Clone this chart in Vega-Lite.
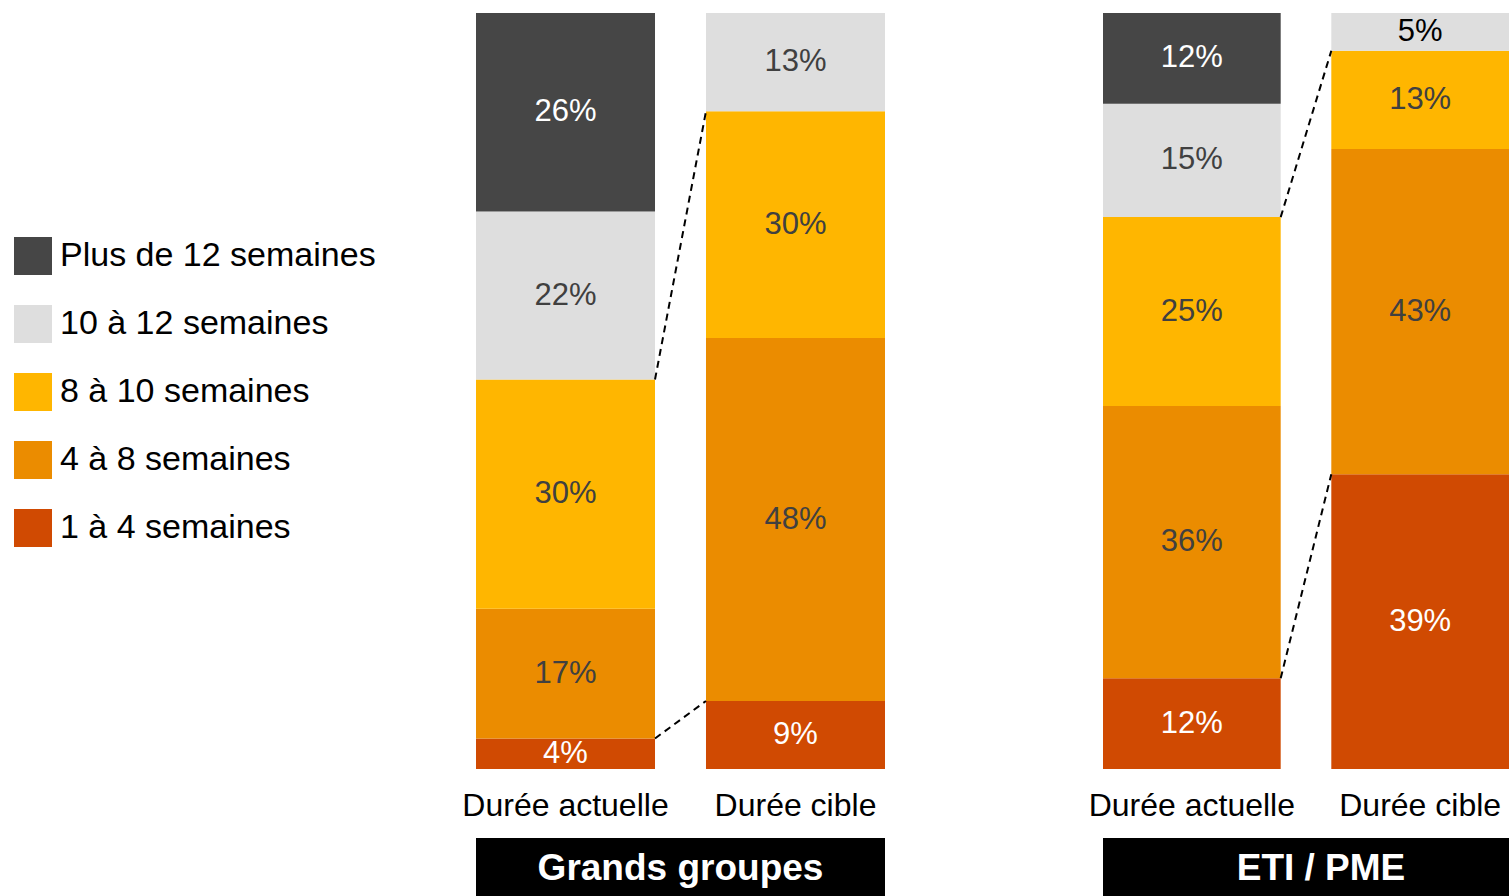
{
  "$schema": "https://vega.github.io/schema/vega-lite/v6.json",
  "padding": {"left": 14, "top": 13, "right": 0, "bottom": 0},
  "config": {
    "view": {"stroke": null},
    "font": "Liberation Sans"
  },
  "datasets": {
    "segs": [
      {"grp": "Grands groupes", "dur": "Durée actuelle", "cat": "1 à 4 semaines", "rank": 1, "v": 0.04},
      {"grp": "Grands groupes", "dur": "Durée actuelle", "cat": "4 à 8 semaines", "rank": 2, "v": 0.17},
      {"grp": "Grands groupes", "dur": "Durée actuelle", "cat": "8 à 10 semaines", "rank": 3, "v": 0.30},
      {"grp": "Grands groupes", "dur": "Durée actuelle", "cat": "10 à 12 semaines", "rank": 4, "v": 0.22},
      {"grp": "Grands groupes", "dur": "Durée actuelle", "cat": "Plus de 12 semaines", "rank": 5, "v": 0.26},
      {"grp": "Grands groupes", "dur": "Durée cible", "cat": "1 à 4 semaines", "rank": 1, "v": 0.09},
      {"grp": "Grands groupes", "dur": "Durée cible", "cat": "4 à 8 semaines", "rank": 2, "v": 0.48},
      {"grp": "Grands groupes", "dur": "Durée cible", "cat": "8 à 10 semaines", "rank": 3, "v": 0.30},
      {"grp": "Grands groupes", "dur": "Durée cible", "cat": "10 à 12 semaines", "rank": 4, "v": 0.13},
      {"grp": "ETI / PME", "dur": "Durée actuelle", "cat": "1 à 4 semaines", "rank": 1, "v": 0.12},
      {"grp": "ETI / PME", "dur": "Durée actuelle", "cat": "4 à 8 semaines", "rank": 2, "v": 0.36},
      {"grp": "ETI / PME", "dur": "Durée actuelle", "cat": "8 à 10 semaines", "rank": 3, "v": 0.25},
      {"grp": "ETI / PME", "dur": "Durée actuelle", "cat": "10 à 12 semaines", "rank": 4, "v": 0.15},
      {"grp": "ETI / PME", "dur": "Durée actuelle", "cat": "Plus de 12 semaines", "rank": 5, "v": 0.12},
      {"grp": "ETI / PME", "dur": "Durée cible", "cat": "1 à 4 semaines", "rank": 1, "v": 0.39},
      {"grp": "ETI / PME", "dur": "Durée cible", "cat": "4 à 8 semaines", "rank": 2, "v": 0.43},
      {"grp": "ETI / PME", "dur": "Durée cible", "cat": "8 à 10 semaines", "rank": 3, "v": 0.13},
      {"grp": "ETI / PME", "dur": "Durée cible", "cat": "10 à 12 semaines", "rank": 4, "v": 0.05}
    ],
    "links": [
      {"grp": "Grands groupes", "from": "Durée actuelle", "to": "Durée cible", "a": 0.5152, "b": 0.87},
      {"grp": "Grands groupes", "from": "Durée actuelle", "to": "Durée cible", "a": 0.0404, "b": 0.09},
      {"grp": "ETI / PME", "from": "Durée actuelle", "to": "Durée cible", "a": 0.73, "b": 0.95},
      {"grp": "ETI / PME", "from": "Durée actuelle", "to": "Durée cible", "a": 0.12, "b": 0.39}
    ],
    "groups": [
      {"grp": "Grands groupes"},
      {"grp": "ETI / PME"}
    ]
  },
  "spacing": 203,
  "hconcat": [
    {
      "bounds": "flush",
      "spacing": 69,
      "vconcat": [
        {
          "width": 409,
          "height": 756,
          "layer": [
            {
              "data": {"name": "segs"},
              "transform": [{"filter": "datum.grp === 'Grands groupes'"}],
              "mark": {"type": "bar"},
              "encoding": {
                "x": {"field": "dur", "type": "nominal", "scale": {"type": "band", "domain": ["Durée actuelle", "Durée cible"], "paddingInner": 0.2217, "paddingOuter": 0}, "axis": {"title": null, "labelAngle": 0, "domain": false, "ticks": false, "tickSize": 0, "labelPadding": 21, "labelFontSize": 32, "labelLimit": 0, "labelColor": "#000000", "labelFont": "Liberation Sans"}},
                "y": {"field": "v", "type": "quantitative", "stack": "normalize", "scale": {"domain": [0, 1], "nice": false}, "axis": null},
                "order": {"field": "rank", "type": "quantitative"},
                "color": {"field": "cat", "type": "nominal", "scale": {"domain": ["Plus de 12 semaines", "10 à 12 semaines", "8 à 10 semaines", "4 à 8 semaines", "1 à 4 semaines"], "range": ["#464646", "#DEDEDE", "#FFB600", "#EB8C00", "#D04A02"]}, "legend": {"title": null, "orient": "none", "legendX": -462, "legendY": 224, "symbolType": "square", "symbolSize": 1444, "symbolStrokeWidth": 0, "symbolOpacity": 1, "labelFontSize": 34, "labelColor": "#000000", "labelFont": "Liberation Sans", "labelOffset": 8, "rowPadding": 30, "labelLimit": 0}}
              }
            },
            {
              "data": {"name": "segs"},
              "transform": [{"filter": "datum.grp === 'Grands groupes'"}],
              "mark": {"type": "text", "fontSize": 31, "baseline": "middle", "align": "center"},
              "encoding": {
                "x": {"field": "dur", "type": "nominal", "scale": {"type": "band", "domain": ["Durée actuelle", "Durée cible"], "paddingInner": 0.2217, "paddingOuter": 0}},
                "y": {"field": "v", "type": "quantitative", "stack": "normalize", "bandPosition": 0.5},
                "order": {"field": "rank", "type": "quantitative"},
                "text": {"field": "v", "type": "quantitative", "format": ".0%"},
                "color": {"condition": [{"test": "datum.cat === 'Plus de 12 semaines' || datum.cat === '1 à 4 semaines'", "value": "#ffffff"}], "value": "#404040"}
              }
            },
            {
              "data": {"name": "links"},
              "transform": [{"filter": "datum.grp === 'Grands groupes'"}],
              "mark": {"type": "rule", "strokeDash": [7, 5], "strokeWidth": 2, "color": "#000000"},
              "encoding": {
                "x": {"field": "from", "type": "nominal", "bandPosition": 1, "scale": {"type": "band", "domain": ["Durée actuelle", "Durée cible"], "paddingInner": 0.2217, "paddingOuter": 0}},
                "x2": {"field": "to", "bandPosition": 0},
                "y": {"field": "a", "type": "quantitative"},
                "y2": {"field": "b"}
              }
            }
          ]
        },
        {
          "width": 409,
          "height": 58,
          "data": {"name": "groups"},
          "transform": [{"filter": "datum.grp === 'Grands groupes'"}],
          "layer": [
            {
              "mark": {"type": "bar", "color": "#000000"},
              "encoding": {
                "x": {"field": "grp", "type": "nominal", "scale": {"type": "band", "paddingInner": 0, "paddingOuter": 0}, "axis": null}
              }
            },
            {
              "mark": {"type": "text", "color": "#ffffff", "fontSize": 37, "fontWeight": "bold", "baseline": "middle", "align": "center", "dy": 2},
              "encoding": {
                "x": {"field": "grp", "type": "nominal"},
                "text": {"field": "grp", "type": "nominal"}
              }
            }
          ]
        }
      ]
    },
    {
      "bounds": "flush",
      "spacing": 69,
      "vconcat": [
        {
          "width": 406,
          "height": 756,
          "layer": [
            {
              "data": {"name": "segs"},
              "transform": [{"filter": "datum.grp === 'ETI / PME'"}],
              "mark": {"type": "bar"},
              "encoding": {
                "x": {"field": "dur", "type": "nominal", "scale": {"type": "band", "domain": ["Durée actuelle", "Durée cible"], "paddingInner": 0.2217, "paddingOuter": 0}, "axis": {"title": null, "labelAngle": 0, "domain": false, "ticks": false, "tickSize": 0, "labelPadding": 21, "labelFontSize": 32, "labelLimit": 0, "labelColor": "#000000", "labelFont": "Liberation Sans"}},
                "y": {"field": "v", "type": "quantitative", "stack": "normalize", "scale": {"domain": [0, 1], "nice": false}, "axis": null},
                "order": {"field": "rank", "type": "quantitative"},
                "color": {"field": "cat", "type": "nominal"}
              }
            },
            {
              "data": {"name": "segs"},
              "transform": [{"filter": "datum.grp === 'ETI / PME'"}],
              "mark": {"type": "text", "fontSize": 31, "baseline": "middle", "align": "center"},
              "encoding": {
                "x": {"field": "dur", "type": "nominal", "scale": {"type": "band", "domain": ["Durée actuelle", "Durée cible"], "paddingInner": 0.2217, "paddingOuter": 0}},
                "y": {"field": "v", "type": "quantitative", "stack": "normalize", "bandPosition": 0.5},
                "order": {"field": "rank", "type": "quantitative"},
                "text": {"field": "v", "type": "quantitative", "format": ".0%"},
                "color": {"condition": [{"test": "datum.cat === 'Plus de 12 semaines' || datum.cat === '1 à 4 semaines'", "value": "#ffffff"}, {"test": "datum.cat === '10 à 12 semaines' && datum.dur === 'Durée cible'", "value": "#000000"}], "value": "#404040"}
              }
            },
            {
              "data": {"name": "links"},
              "transform": [{"filter": "datum.grp === 'ETI / PME'"}],
              "mark": {"type": "rule", "strokeDash": [7, 5], "strokeWidth": 2, "color": "#000000"},
              "encoding": {
                "x": {"field": "from", "type": "nominal", "bandPosition": 1, "scale": {"type": "band", "domain": ["Durée actuelle", "Durée cible"], "paddingInner": 0.2217, "paddingOuter": 0}},
                "x2": {"field": "to", "bandPosition": 0},
                "y": {"field": "a", "type": "quantitative"},
                "y2": {"field": "b"}
              }
            }
          ]
        },
        {
          "width": 406,
          "height": 58,
          "data": {"name": "groups"},
          "transform": [{"filter": "datum.grp === 'ETI / PME'"}],
          "layer": [
            {
              "mark": {"type": "bar", "color": "#000000"},
              "encoding": {
                "x": {"field": "grp", "type": "nominal", "scale": {"type": "band", "paddingInner": 0, "paddingOuter": 0}, "axis": null}
              }
            },
            {
              "mark": {"type": "text", "color": "#ffffff", "fontSize": 37, "fontWeight": "bold", "baseline": "middle", "align": "center", "dy": 2, "dx": 15},
              "encoding": {
                "x": {"field": "grp", "type": "nominal"},
                "text": {"field": "grp", "type": "nominal"}
              }
            }
          ]
        }
      ]
    }
  ]
}
